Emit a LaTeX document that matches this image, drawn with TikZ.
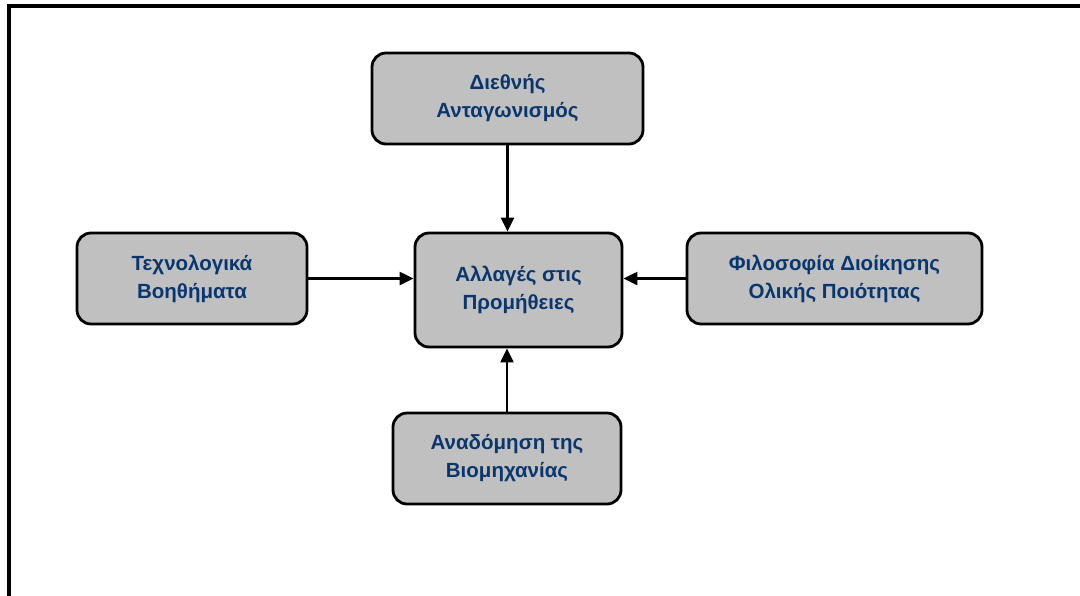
\documentclass[tikz,border=0pt]{standalone}
\usepackage{fontspec}
\setmainfont{Liberation Sans}
\usetikzlibrary{arrows.meta}
\definecolor{boxfill}{RGB}{192,192,192}
\definecolor{labelblue}{RGB}{10,54,110}
\tikzset{
  factor/.style={draw=black, line width=2.8pt, fill=boxfill, rounded corners=14pt,
    align=center, inner sep=0pt, text=labelblue,
    font=\fontsize{20.5}{28}\selectfont\bfseries},
  flow/.style={line width=2.2pt, -{Triangle[length=14pt,width=13pt]}}
}
\begin{document}
\begin{tikzpicture}[x=1pt, y=-1pt]
  \useasboundingbox (0,0) rectangle (1080,595);
  \clip (0,0) rectangle (1080,595);
  % outer frame (top and left edges)
  \draw[line width=4pt] (1095,6) -- (9,6) -- (9,610);

  \node[factor, minimum width=271pt, minimum height=91pt] (comp) at (507.5,98.5)
    {Διεθνής\\Ανταγωνισμός};
  \node[factor, minimum width=207pt, minimum height=114pt] (supply) at (518.5,290)
    {Αλλαγές στις\\Προμήθειες};
  \node[factor, minimum width=295pt, minimum height=91pt] (tqm) at (834.5,278.5)
    {Φιλοσοφία Διοίκησης\\Ολικής Ποιότητας};
  \node[factor, minimum width=230pt, minimum height=91pt] (tech) at (192,278.5)
    {Τεχνολογικά\\Βοηθήματα};
  \node[factor, minimum width=228pt, minimum height=91pt] (ind) at (507,458.5)
    {Αναδόμηση της\\Βιομηχανίας};

  \draw[flow] (comp.south) -- (comp.south |- supply.north);
  \draw[flow] (ind.north) -- (ind.north |- supply.south);
  \draw[flow] (tech.east) -- (tech.east -| supply.west);
  \draw[flow] (tqm.west) -- (tqm.west -| supply.east);
\end{tikzpicture}
\end{document}
